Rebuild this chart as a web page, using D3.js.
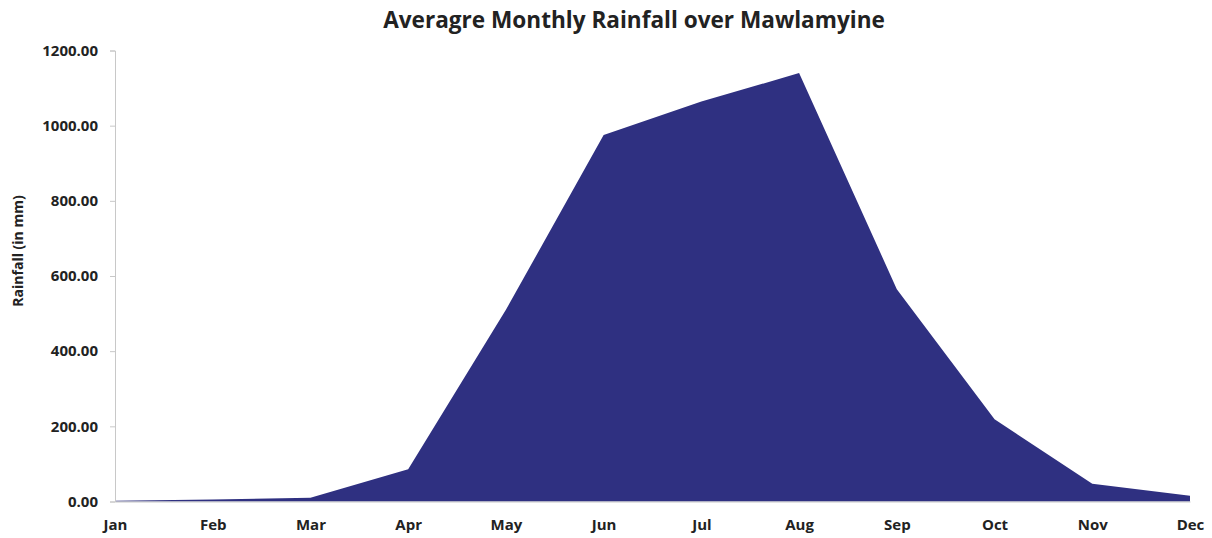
<!DOCTYPE html>
<html><head><meta charset="utf-8">
<script src="https://cdn.jsdelivr.net/npm/d3@7"></script>
<style>body{margin:0;background:#fff;} svg{display:block;} text{font-family:"Open Sans",sans-serif;font-weight:bold;fill:#222;}</style>
</head><body>
<svg id="c" width="1212" height="538"></svg>
<script>
(function(){
const months = ["Jan","Feb","Mar","Apr","May","Jun","Jul","Aug","Sep","Oct","Nov","Dec"];
const rainfall = [2, 5, 10, 86, 510, 975, 1064, 1140, 565, 219, 47, 15];
const yTicks = [0, 200, 400, 600, 800, 1000, 1200];
const title = "Averagre Monthly Rainfall over Mawlamyine";
const yTitle = "Rainfall (in mm)";

const svg = d3.select("#c");
const mLeft = 115, mRight = 1190, mTop = 50.5, mBottom = 501.5;
const x = d3.scalePoint().domain(months).range([mLeft, mRight]);
const y = d3.scaleLinear().domain([0, 1200]).range([mBottom, mTop]);

const area = d3.area().x((d,i)=>x(months[i])).y0(y(0)).y1(d=>y(d));
svg.append("path").datum(rainfall).attr("d", area).attr("fill", "#2F3081");

// y axis
const ya = svg.append("g").attr("transform", `translate(${mLeft},0)`)
  .call(d3.axisLeft(y).tickValues(yTicks).tickFormat(d3.format(".2f")).tickSize(5).tickPadding(12));
ya.select(".domain").attr("stroke", "#c8c8c8");
ya.selectAll(".tick line").attr("stroke", "#c8c8c8");
ya.selectAll(".tick text").style("font-size", "15px").style("fill","#222");

// x axis
const xa = svg.append("g").attr("transform", `translate(0,${mBottom})`)
  .call(d3.axisBottom(x).tickSize(0).tickPadding(18));
xa.select(".domain").attr("stroke", "#c8c8c8");
xa.selectAll(".tick text").style("font-size", "15px").style("fill","#222");

// title
const t = svg.append("text").attr("x", 634).attr("y", 28).attr("text-anchor","middle")
  .style("font-size","20px").text(title);
const w = t.node().getComputedTextLength();
t.style("font-size", (20*502/w)+"px");

svg.append("text").attr("transform","translate(23,251) rotate(-90)").attr("text-anchor","middle")
  .style("font-size","14px").text(yTitle);
})();
</script>
</body></html>
